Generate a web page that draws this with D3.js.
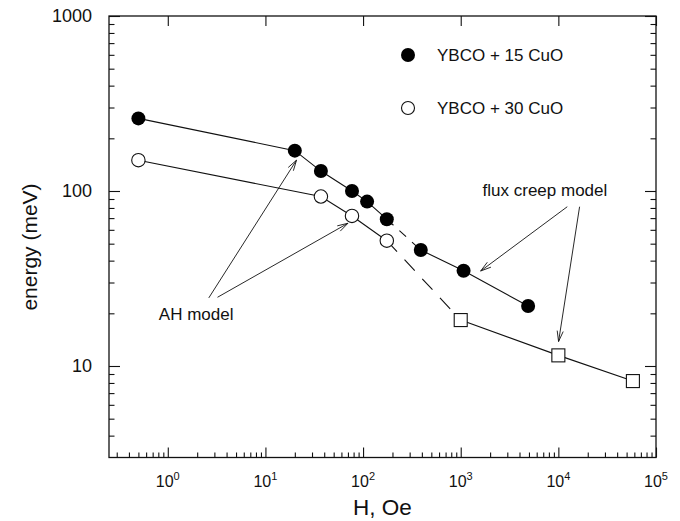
<!DOCTYPE html>
<html>
<head>
<meta charset="utf-8">
<script src="https://cdn.jsdelivr.net/npm/d3@7"></script>
<style>
  body { margin: 0; background: #fff; }
  svg { font-family: "Liberation Sans", Arial, sans-serif; }
</style>
</head>
<body>
<div id="chart"></div>
<script>
// YBCO + 15 CuO (filled circles)
const hFilled = [0.5, 20, 37, 77, 110, 175, 390, 1070, 4900];
const eFilled = [260, 170, 130, 100, 87, 69, 46, 35, 22];
// YBCO + 30 CuO (open circles), continued by the squares
const hOpen = [0.5, 37, 77, 175];
const eOpen = [150, 93, 72, 52];
const hSquare = [1000, 10000, 58000];
const eSquare = [18.3, 11.5, 8.2];

const legendLabels = ['YBCO + 15 CuO', 'YBCO + 30 CuO'];
const xMajor = [1, 10, 100, 1000, 10000, 100000];
const xExp = ['0', '1', '2', '3', '4', '5'];
const yMajor = [10, 100, 1000];

// annotations, in data units: [tailH, tailE, tipH, tipE]
const ahArrows = [[2.63, 24.5, 20.8, 150], [3.23, 24.7, 70, 65.4]];
const fluxArrows = [[12340, 81.3, 1600, 34.9], [16500, 81.3, 10050, 13.8]];
const ahText = [0.81, 18.3];
const fluxText = [1675, 93.6];

class LogPlot {
    constructor(_config) {
        this.config = {
            parentElement: _config.parentElement,
            containerWidth: 680,
            containerHeight: 521,
            margin: {top: 16, right: 24, bottom: 63.5, left: 109}
        }
        this.initVis();
    }
    initVis() {
        let vis = this;
        const m = vis.config.margin;
        vis.width = vis.config.containerWidth - m.left - m.right;
        vis.height = vis.config.containerHeight - m.top - m.bottom;

        vis.xScale = d3.scaleLog().domain([0.25, 1e5]).range([0, vis.width]);
        vis.yScale = d3.scaleLog().domain([3, 1000]).range([vis.height, 0]);

        vis.svg = d3.select(vis.config.parentElement).append('svg')
            .attr('width', vis.config.containerWidth)
            .attr('height', vis.config.containerHeight);
        vis.g = vis.svg.append('g')
            .attr('transform', `translate(${m.left},${m.top})`);
        vis.renderVis();
    }
    minors(lo, hi) {
        // 2..9 of each decade between lo and hi
        const out = [];
        for (let d = Math.floor(Math.log10(lo)); d < Math.ceil(Math.log10(hi)); d++) {
            for (let k = 2; k < 10; k++) {
                const v = k * Math.pow(10, d);
                if (v > lo * 1.001 && v < hi * 0.999) out.push(v);
            }
        }
        return out;
    }
    renderVis() {
        let vis = this;
        const x = vis.xScale, y = vis.yScale;
        const W = vis.width, H = vis.height;
        const ink = '#111';

        // frame
        vis.g.append('rect')
            .attr('width', W).attr('height', H)
            .attr('fill', 'none').attr('stroke', ink).attr('stroke-width', 1.3);

        const axisG = (axis, tx, ty) => {
            const a = vis.g.append('g').attr('transform', `translate(${tx},${ty})`).call(axis);
            a.select('.domain').remove();
            a.selectAll('line').attr('stroke', ink).attr('stroke-width', 1.1);
            return a;
        };
        const xMin = vis.minors(0.25, 1e5);
        const yMin = vis.minors(3, 1000);

        axisG(d3.axisBottom(x).tickValues(xMajor).tickSize(-10).tickFormat(''), 0, H);
        axisG(d3.axisBottom(x).tickValues(xMin).tickSize(-5).tickFormat(''), 0, H);
        axisG(d3.axisTop(x).tickValues(xMajor).tickSize(-10).tickFormat(''), 0, 0);
        axisG(d3.axisLeft(y).tickValues(yMajor).tickSize(-11).tickFormat(''), 0, 0);
        axisG(d3.axisLeft(y).tickValues(yMin).tickSize(-5.5).tickFormat(''), 0, 0);
        axisG(d3.axisRight(y).tickValues(yMajor).tickSize(-11).tickFormat(''), W, 0);
        axisG(d3.axisRight(y).tickValues(yMin).tickSize(-5.5).tickFormat(''), W, 0);

        // tick labels
        const xl = vis.g.append('g').selectAll('text').data(xMajor).join('text')
            .attr('x', d => x(d)).attr('y', H + 29.5)
            .attr('text-anchor', 'middle').attr('font-size', 16).attr('fill', ink);
        xl.append('tspan').text('10');
        xl.append('tspan').attr('dy', -7).attr('font-size', 11).text((d, i) => xExp[i]);

        vis.g.append('g').selectAll('text').data(yMajor).join('text')
            .attr('x', -17).attr('y', d => y(d)).attr('dy', '0.36em')
            .attr('text-anchor', 'end').attr('font-size', 18).attr('fill', ink)
            .text(d => d);

        // axis titles
        vis.g.append('text')
            .attr('x', W / 2 + 0).attr('y', H + 57)
            .attr('text-anchor', 'middle').attr('font-size', 22.5).attr('fill', ink)
            .text('H, Oe');
        vis.g.append('text')
            .attr('transform', `translate(${-72},${231}) rotate(-90)`)
            .attr('text-anchor', 'middle').attr('font-size', 21).attr('fill', ink)
            .text('energy (meV)');

        // connecting lines
        const line = d3.line().x(d => x(d[0])).y(d => y(d[1]));
        const filled = hFilled.map((h, i) => [h, eFilled[i]]);
        const open = hOpen.map((h, i) => [h, eOpen[i]]);
        const sq = hSquare.map((h, i) => [h, eSquare[i]]);
        const lineG = vis.g.append('g').attr('fill', 'none').attr('stroke', ink).attr('stroke-width', 1.1);
        lineG.append('path').attr('d', line(filled.slice(0, 6)));
        lineG.append('path').attr('d', line(filled.slice(5, 7))).attr('stroke-dasharray', '9,8');
        lineG.append('path').attr('d', line(filled.slice(6)));
        lineG.append('path').attr('d', line(open));
        lineG.append('path').attr('d', line([open[open.length - 1], sq[0]])).attr('stroke-dasharray', '15,11');
        lineG.append('path').attr('d', line(sq));

        // markers
        vis.g.append('g').selectAll('circle').data(open).join('circle')
            .attr('cx', d => x(d[0])).attr('cy', d => y(d[1])).attr('r', 6.7)
            .attr('fill', '#fff').attr('stroke', ink).attr('stroke-width', 1.1);
        vis.g.append('g').selectAll('circle').data(filled).join('circle')
            .attr('cx', d => x(d[0])).attr('cy', d => y(d[1])).attr('r', 7)
            .attr('fill', '#000');
        vis.g.append('g').selectAll('rect').data(sq).join('rect')
            .attr('x', d => x(d[0]) - 6.5).attr('y', d => y(d[1]) - 6.5)
            .attr('width', 13).attr('height', 13)
            .attr('fill', '#fff').attr('stroke', ink).attr('stroke-width', 1.1);

        // legend
        const leg = vis.g.append('g').attr('transform', `translate(${299},${39})`);
        leg.append('circle').attr('cx', 0).attr('cy', 0).attr('r', 7).attr('fill', '#000');
        leg.append('circle').attr('cx', 0).attr('cy', 53).attr('r', 6.5)
            .attr('fill', '#fff').attr('stroke', ink).attr('stroke-width', 1.1);
        leg.selectAll('text').data(legendLabels).join('text')
            .attr('x', 29).attr('y', (d, i) => i * 53).attr('dy', '0.36em')
            .attr('font-size', 17).attr('fill', ink)
            .text(d => d);

        // annotations
        const arrow = (a) => {
            const x0 = x(a[0]), y0 = y(a[1]), x1 = x(a[2]), y1 = y(a[3]);
            const ang = Math.atan2(y1 - y0, x1 - x0);
            const L = 11, s = 0.28;
            const p1 = [x1 - L * Math.cos(ang - s), y1 - L * Math.sin(ang - s)];
            const p2 = [x1 - L * Math.cos(ang + s), y1 - L * Math.sin(ang + s)];
            return `M${x0},${y0}L${x1},${y1}M${p1[0]},${p1[1]}L${x1},${y1}L${p2[0]},${p2[1]}`;
        };
        vis.g.append('g').selectAll('path').data(ahArrows.concat(fluxArrows)).join('path')
            .attr('d', arrow)
            .attr('fill', 'none').attr('stroke', ink).attr('stroke-width', 0.9);
        vis.g.append('text')
            .attr('x', x(ahText[0])).attr('y', y(ahText[1]))
            .attr('font-size', 17).attr('fill', ink).text('AH model');
        vis.g.append('text')
            .attr('x', x(fluxText[0])).attr('y', y(fluxText[1]))
            .attr('font-size', 17).attr('fill', ink).text('flux creep model');
    }
}

new LogPlot({parentElement: '#chart'});
</script>
</body>
</html>
